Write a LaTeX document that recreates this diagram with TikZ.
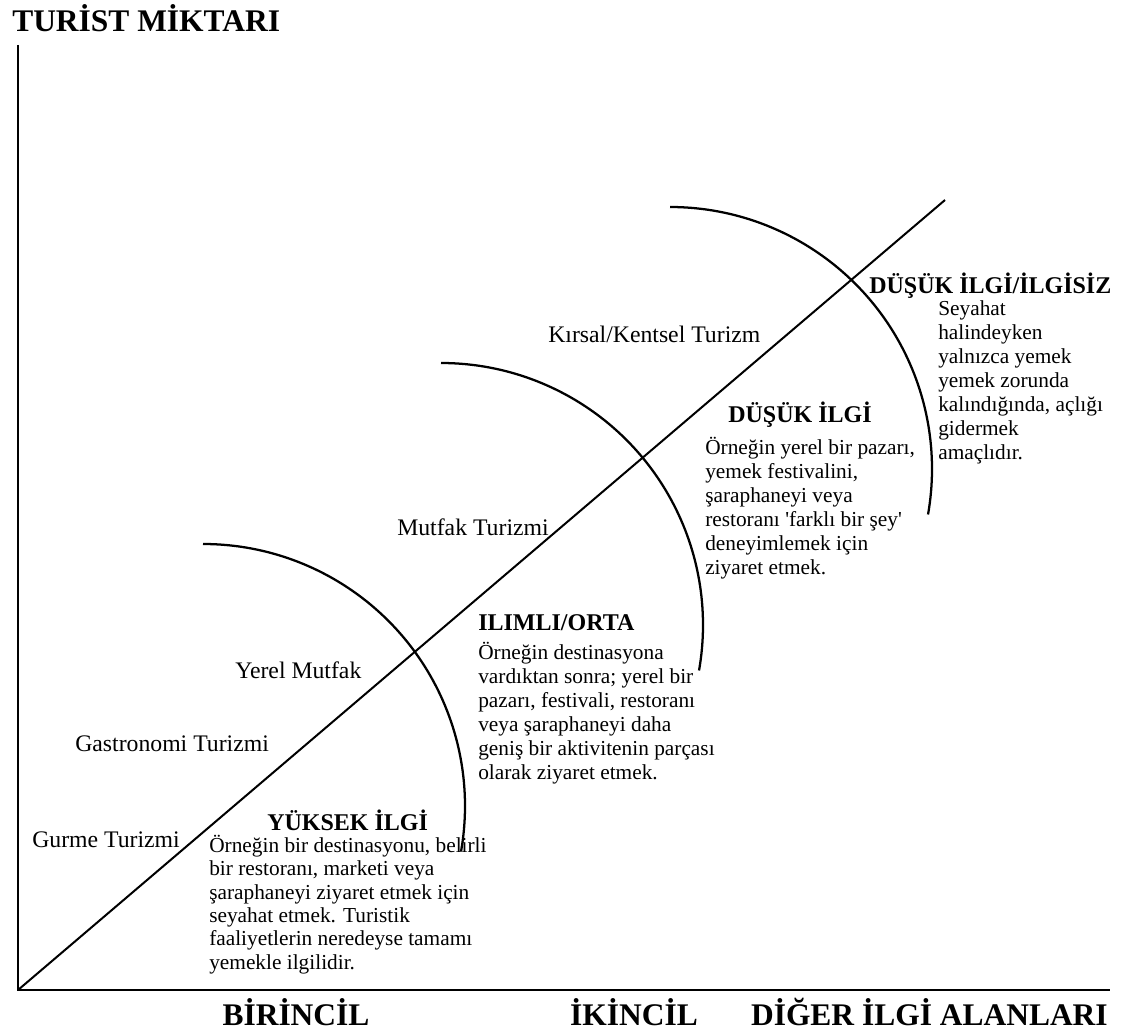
\documentclass[tikz,border=0pt]{standalone}
\usepackage{fontspec}
\setmainfont{Liberation Serif}
\usepackage{tikz}
\usetikzlibrary{positioning}

\tikzset{
  axisline/.style={line width=2.1pt},
  diagline/.style={line width=1.5pt},
  arcline/.style={line width=1.7pt},
  typelabel/.style={anchor=base west, inner sep=0pt, font=\fontsize{17.8}{20}\selectfont},
  levelhead/.style={anchor=base west, inner sep=0pt, font=\bfseries\fontsize{18}{20}\selectfont},
  % multi-line text: the base anchor sits on the last line
  levelbody/.style={anchor=base west, inner sep=0pt, align=left, font=\fontsize{16}{18}\selectfont},
  axishead/.style={anchor=base, inner sep=0pt, font=\bfseries\fontsize{23.6}{26}\selectfont}
}

\begin{document}
\begin{tikzpicture}[x=0.75pt, y=-0.75pt]
    \useasboundingbox (0,0) rectangle (1124,1031);
    % Draw axes and the diagonal
    \coordinate (origin) at (18,990);
    \coordinate (ytop) at (18,45);
    \coordinate (xend) at (1110,990);
    \coordinate (diagend) at (945,200);
    \draw[axisline] (ytop) -- (origin) -- (xend);
    \draw[diagline] (origin) -- (diagend);

    % Draw arcs between interest levels
    \draw[arcline] (203,544) arc[start angle=90, end angle=-10, radius=196.5pt];
    \draw[arcline] (441,363) arc[start angle=90, end angle=-10, radius=196.5pt];
    \draw[arcline] (670,207) arc[start angle=90, end angle=-10, radius=196.5pt];

    % Axis titles
    \node[axishead, anchor=base west] (ytitle) at (12,32) {TURİST MİKTARI};
    \node[axishead] (primary) at (296,1025) {BİRİNCİL};
    \node[axishead] (secondary) at (634,1025) {İKİNCİL};
    \node[axishead, anchor=base east] (other) at (1108,1025) {DİĞER İLGİ ALANLARI};

    % Tourism types along the diagonal
    \node[typelabel] (gurme) at (32,847) {Gurme Turizmi};
    \node[typelabel] (gastro) at (75,751) {Gastronomi Turizmi};
    \node[typelabel] (yerel) at (235,678) {Yerel Mutfak};
    \node[typelabel] (mutfak) at (397,535) {Mutfak Turizmi};
    \node[typelabel] (kirsal) at (548,342) {Kırsal/Kentsel Turizm};

    % Interest levels
    \node[levelhead] (high) at (267,830) {YÜKSEK İLGİ};
    \node[levelbody, font=\fontsize{16}{17.5}\selectfont] (highbody) at (209,969)
      {Örneğin bir destinasyonu, belirli\\bir restoranı, marketi veya\\şaraphaneyi ziyaret etmek için\\seyahat etmek. Turistik\\faaliyetlerin neredeyse tamamı\\yemekle ilgilidir.};

    \node[levelhead] (mid) at (478,630) {ILIMLI/ORTA};
    \node[levelbody] (midbody) at (478,779)
      {Örneğin destinasyona\\vardıktan sonra; yerel bir\\pazarı, festivali, restoranı\\veya şaraphaneyi daha\\geniş bir aktivitenin parçası\\olarak ziyaret etmek.};

    \node[levelhead] (low) at (728,422) {DÜŞÜK İLGİ};
    \node[levelbody] (lowbody) at (705,574)
      {Örneğin yerel bir pazarı,\\yemek festivalini,\\şaraphaneyi veya\\restoranı \textquotesingle farklı bir şey\textquotesingle\\deneyimlemek için\\ziyaret etmek.};

    \node[levelhead] (none) at (869,293) {DÜŞÜK İLGİ/İLGİSİZ};
    \node[levelbody] (nonebody) at (938,459)
      {Seyahat\\halindeyken\\yalnızca yemek\\yemek zorunda\\kalındığında, açlığı\\gidermek\\amaçlıdır.};
\end{tikzpicture}
\end{document}
